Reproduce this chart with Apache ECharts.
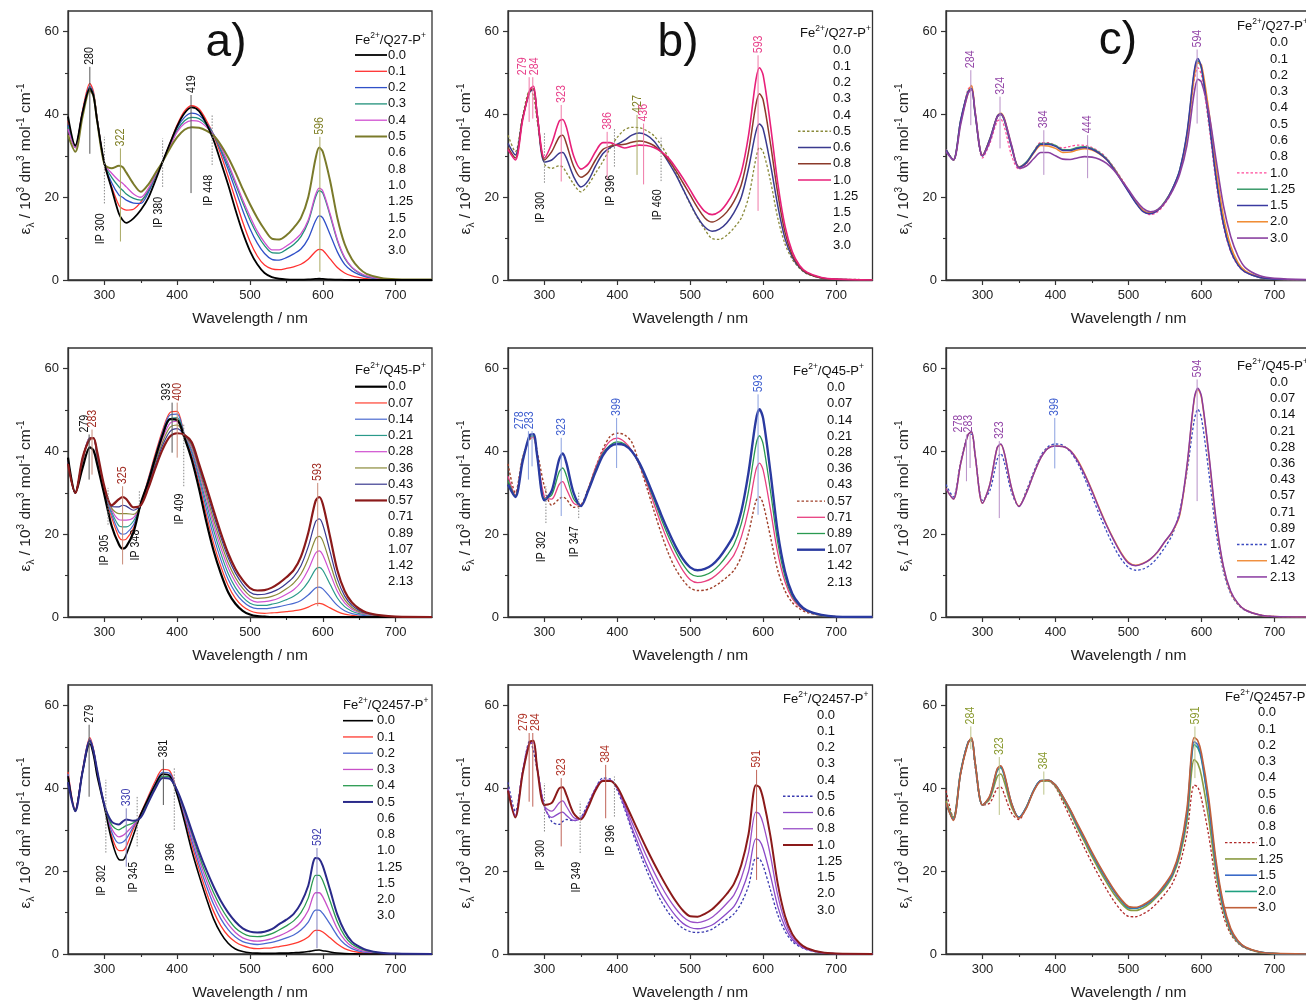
<!DOCTYPE html>
<html><head><meta charset="utf-8">
<script src="https://cdn.jsdelivr.net/npm/echarts@6/dist/echarts.min.js"></script>
<style>html,body{margin:0;padding:0;background:#fff}#c{width:1306px;height:1001px}</style>
</head><body><div id="c"></div>
<script>
// ---------------- DATA ----------------
const W = [250,260,270,280,285,290,300,310,320,325,330,340,350,360,370,380,390,400,410,420,430,440,450,460,470,480,490,500,510,520,530,540,550,560,570,580,590,595,600,610,620,630,640,650,660,680,700,750];

const LEG_Q27 = ['0.0','0.1','0.2','0.3','0.4','0.5','0.6','0.8','1.0','1.25','1.5','2.0','3.0'];
const LEG_Q45 = ['0.0','0.07','0.14','0.21','0.28','0.36','0.43','0.57','0.71','0.89','1.07','1.42','2.13'];
const LEG_Q2457 = ['0.0','0.1','0.2','0.3','0.4','0.5','0.6','0.8','1.0','1.25','1.5','2.0','3.0'];
const X_TICKS = [300,400,500,600,700];
const X_MINOR = [350,450,550,650];
const Y_TICKS = [0,20,40,60];
const Y_MINOR = [10,30,50];

// Fe2+/Q27-P+
const q27_00 = [39.5,32.5,40.5,46.3,44.5,38.5, 28.2,22,16,14.5,13.8,14.9, 16.9,19.7,24,28.6,33,37.2, 40.3,41.7,40.8,37.8,33.8,28.5, 23,17,11.5,7,3.8,1.7, 0.7,0.3,0.15,0.1,0.1,0.15, 0.25,0.3,0.25,0.15,0.1,0.05, 0,0,0,0,0,0];
const q27_01 = [38.5,32,41,47.5,45.5,39, 28,22.5,18,17.2,16.9,17.1, 18.8,21.5,25,28.6,33,37.5, 40.8,42.1,41.3,38.6,35,30.3, 25,19.5,14,9.3,5.8,3.6, 2.7,2.5,2.8,3.2,3.8,5, 6.9,7.4,7.2,5.1,3,1.7, 1,0.6,0.3,0.1,0,0];
const q27_02 = [37.5,32.3,40.5,46.8,45,39, 28,23.5,20.5,20,19.3,18.6, 18.5,21,25,28.6,32.8,36.8, 39.3,40.3,39.8,37.9,35.2,31.2, 26.7,21.8,16.8,12.4,8.9,6.4, 5,4.8,5.4,6.3,7.5,10, 14.3,15.5,15,11,6.8,3.8, 2.2,1.3,0.7,0.2,0.1,0];
const q27_03 = [37,32,40.5,46.5,45,39, 28,24.8,22.5,21.7,20.8,19.7, 19.3,21.5,25,28.6,32.5,36.2, 38.5,39.3,39,37.5,35.1,31.6, 27.6,23.2,18.7,14.5,11,8.3, 6.6,6.5,7.4,8.6,10.5,14, 20,21.6,21,15.6,9.5,5.3, 3,1.7,0.9,0.3,0.1,0];
const q27_04 = [36.5,32,40.5,46.3,44.8,39, 28,25.8,24,23.4,22.5,20.8, 20,22,25.3,28.6,32.3,35.8, 37.8,38.5,38.3,37,35.1,32.1, 28.2,23.8,19.4,15.4,11.8,9.1, 7.3,7.3,8.2,9.5,11.2,14.5, 20.6,22.2,21.5,16,9.8,5.5, 3.1,1.8,1,0.3,0.1,0];
const q27_05 = [35,31,39.5,45.8,44.5,38.5, 28,27,27.6,27.3,26,23.2, 21.3,23,25.8,28.6,31.8,34.5, 36.3,36.9,36.8,36.1,34.9,32.6, 29.6,26,22,18.3,15,12.2, 10,9.8,10.8,12.6,15,20, 29.3,32,31,24,15,8.7, 5,2.8,1.5,0.5,0.2,0.1];
const q27_06 = [33,30.2,39,45.5,46,40, 28.5,29,30.6,30.8,29.5,25, 22.5,24,27.5,30.5,32,32.8, 33.8,35,35.5,35,33.6,31.2, 28.5,25.5,22,18.5,15.2,12.8, 11.8,12.3,13.8,16.3,20,27, 35.8,37.7,36.5,28,18,10, 5.5,3,1.6,0.5,0.2,0];
const q27_08 = [32,29.5,39,45.8,46.2,40, 29,31,34.5,35,33,27.5, 24.8,26,29,31.5,32.3,32.6, 32.8,33.3,33.6,33.3,32.5,31, 29,26.5,23.5,20.5,17.5,15, 14,14.8,16.4,19,23,31, 42.3,45,43.5,33,21,11.5, 6,3.2,1.7,0.5,0.2,0];
const q27_10 = [31.5,29,38.5,46,46.8,40, 29.5,33,38.3,38.8,37,30, 26.8,28,31,33.2,33.2,32.5, 31.9,32.3,32.6,32.5,32,31, 29.5,27.2,24.6,21.7,18.8,16.6, 15.8,16.5,18.5,21.5,26,35, 48.3,51.3,49.5,37.5,23.5,13, 6.8,3.5,1.9,0.6,0.2,0];
const q27_125 = [31.5,29,38.5,45.5,46.3,40, 30,34,39.3,40,38.5,32, 27.3,28.5,31,33,33,32.5, 31.5,31.5,32,32.2,31.8,30.8, 29.3,27,24.3,21.5,18.8,16.7, 16.2,17,19,22,26.5,35, 50,53,51,39,25,14, 7.3,3.8,2,0.6,0.2,0];
const q27_15 = [31.5,29,38.5,45.3,46.3,40, 30,34,39.5,40.2,38.7,32, 27.2,28.3,30.8,32.8,32.8,32.3, 31.3,31.3,31.8,32,31.6,30.6, 29.1,26.8,24.1,21.3,18.6,16.5, 16,16.8,18.8,22,26.5,35.5, 50.5,53.5,51.3,39,24.5,13.5, 7,3.6,1.9,0.6,0.2,0];
const q27_20 = [31.5,29,38,45,47,40.5, 30.2,34,39.5,40.3,39,32.3, 27.3,28.2,30.6,32.5,32.4,31.8, 30.8,30.9,31.4,31.7,31.4,30.5, 29.1,26.9,24.3,21.6,19,16.8, 16.2,16.9,18.8,21.8,26,34.5, 49,52.5,52,41,27,15.5, 8.2,4.2,2.2,0.7,0.2,0];
const q27_30 = [31,29,37.5,45,46,40.5, 30,33.5,39.3,40,38.8,32.5, 27,27.5,29.3,30.8,30.8,30, 29.2,29.1,29.5,29.8,29.7,29.2, 28.2,26.5,24.2,21.8,19.3,17.3, 16.5,17,18.7,21.5,25.5,32.5, 45.2,48.5,47.8,40.5,29,18, 10.5,5.8,3,1,0.4,0.1];

// Fe2+/Q45-P+
const q45_000 = [38.5,30,36,41,40.3,37, 29.5,22,17.5,16.5,17,20.5, 27.5,32.5,38.5,44,47.8,47.6, 43.3,38,31,23,16,10.5, 6,3.2,1.5,0.6,0.2,0.1, 0,0,0,0,0,0, 0,0,0,0,0,0, 0,0,0,0,0,0];
const q45_007 = [38,30,37.5,43.3,43.3,38.5, 30,24,19.3,18.6,18.8,21.5, 27.2,33.3,39.5,45.2,49.4,49.7, 43.8,39,32.5,24.8,17.8,12.2, 7.6,4.5,2.6,1.5,1,0.9, 1,1.1,1.3,1.5,1.8,2.4, 3.2,3.3,3.1,2.2,1.3,0.7, 0.4,0.2,0.1,0,0,0];
const q45_014 = [37.8,30,37.8,43.3,43.3,38.8, 30.3,24.8,20.5,20,20.2,22.3, 27.1,33,39,44.7,48.8,49, 44,39.7,33.5,26.2,19.5,13.8, 9.1,5.9,3.8,2.5,2,2, 2.2,2.5,2.9,3.3,4,5.3, 7,7.2,6.8,4.8,2.8,1.5, 0.8,0.5,0.3,0.1,0,0];
const q45_021 = [37.6,30,38,43.3,43.3,39, 30.6,25.4,22,21.8,21.8,23.2, 27,32.7,38.5,44,47.8,48.2, 44,40.3,34.3,27.5,21,15.3, 10.5,7.1,4.8,3.3,2.8,2.8, 3.1,3.5,4.2,5,6.3,8.5, 11.5,12,11.3,7.9,4.6,2.5, 1.4,0.8,0.5,0.1,0.05,0];
const q45_028 = [37.4,30,38.2,43.3,43.3,39.2, 30.8,25.9,23.5,23.4,23.4,24, 27,32.3,38,43.2,46.8,47.3, 44,40.8,35,28.6,22.3,16.7, 11.9,8.4,5.9,4.2,3.6,3.7, 4,4.6,5.5,6.6,8.4,11.4, 15.4,16,15,10.6,6.2,3.4, 1.9,1.1,0.6,0.2,0.1,0];
const q45_036 = [37.2,30,38.3,43.2,43.3,39.4, 31,26.3,25,25,25,24.8, 27,32,37.5,42.3,45.8,46.4, 44,41.3,35.7,29.6,23.5,18, 13.1,9.5,6.9,5.1,4.5,4.6, 5,5.7,6.8,8.2,10.4,14.1, 18.9,19.5,18.4,13,7.6,4.2, 2.3,1.3,0.8,0.2,0.1,0];
const q45_043 = [37.1,30,38.4,43.1,43.3,39.6, 31.3,26.7,26.6,27,26.8,25.8, 27,31.6,36.8,41.5,44.8,45.5, 44,41.8,36.3,30.6,24.7,19.2, 14.3,10.6,7.9,6,5.4,5.5, 6,6.8,8.1,9.7,12.4,17, 23,23.7,22.3,15.8,9.2,5.1, 2.8,1.6,0.9,0.3,0.1,0];
const q45_057 = [37,30,38.5,43,43.2,40, 31.5,27,28.5,29,28.5,26.5, 27,31,36,40.5,43.6,44.4, 44,42.2,37,31.5,25.8,20.3, 15.4,11.6,8.9,7,6.4,6.5, 7.1,8.2,9.6,11.3,14.6,20.3, 28,29,27.3,19.4,11.3,6.3, 3.5,2,1.1,0.4,0.1,0];
const q45_071 = [34,29.5,38,43.3,43.5,39, 29,28.5,32,32.7,31,27.5, 27,31,36,40,42.5,43.2, 42.3,40.2,36.8,32.5,27.5,22.5, 18,14.3,11.2,9,8.3,8.6, 9.4,10.8,12.7,15,19.3,26, 35.5,37.2,35.5,26,15.5,8.5, 4.5,2.5,1.4,0.4,0.1,0];
const q45_089 = [33,29.3,38,43.5,43.8,39, 28.6,29.5,35,36,34.2,28.5, 26.9,30.8,35.5,39.5,41.5,42.3, 41.8,40,37,33,28.5,23.8, 19.5,15.8,12.7,10.5,9.8,10.1, 11,12.6,14.8,17.5,22.5,30.5, 41.5,43.8,41.8,30.5,18,9.7, 5,2.7,1.5,0.4,0.1,0];
const q45_107 = [32,29,37.5,44,44.2,39, 28.2,30.5,38,39.5,37.3,30, 26.8,30.5,35,39,41.2,41.8, 41.5,40,37.3,33.5,29.2,24.8, 20.7,17,14,12,11.3,11.6, 12.6,14.4,16.9,19.9,25.5,35, 47.5,50.2,48,35,20.5,11, 5.6,3,1.6,0.5,0.1,0];
const q45_142 = [31,28.5,37,44,44.7,39, 27.5,32,40.8,41.7,39.5,31, 26.8,30,34.5,38.5,40.8,41.3, 41.2,40.3,38,34.6,30.6,26.3, 22.3,18.7,15.5,13.2,12.5,13, 14,15.7,18.2,20.5,24.5,36, 52.5,55,53,39,23,12, 6,3.2,1.7,0.5,0.15,0];
const q45_213 = [31,28.5,37,44,44.8,39, 27.5,32,40.9,41.8,39.6,31, 26.7,29.9,34.5,38.5,40.8,41.3, 41.2,40.2,37.8,34.4,30.4,26.1, 22.1,18.5,15.3,13,12.4,12.9, 14,15.8,18.3,20.7,24.8,36.5, 52.8,55.3,53.3,39.5,23.5,12.3, 6.2,3.3,1.7,0.5,0.15,0];

// Fe2+/Q2457-P+
const q2457_00 = [43,34.5,44,50.8,48,43, 35.5,27.5,22.8,22.7,24,28.8, 33.8,37.5,41,43.5,43,38.5, 32,25,19,13.5,8.5,5, 2.6,1.2,0.6,0.3,0.2,0.15, 0.15,0.2,0.2,0.3,0.4,0.6, 0.9,0.95,0.8,0.5,0.25,0.1, 0.05,0,0,0,0,0];
const q2457_01 = [44,35,44.5,52.3,49.5,44, 36,28.5,25,25,26,30.3, 34,38,41.8,44.6,44.2,39.2, 33,26.5,20.5,15,10.3,6.8, 4.4,2.9,2,1.5,1.3,1.4, 1.5,1.8,2.1,2.5,3.1,4.1, 5.7,5.7,5.3,3.9,2.4,1.3, 0.7,0.4,0.2,0.1,0,0];
const q2457_02 = [43.5,35,44.3,52,49.3,44, 36,29.5,26.8,27,27.8,30.8, 33.8,37.6,41.2,43.9,43.6,39.2, 33.6,27.5,21.7,16.5,12,8.5, 5.9,4.1,3,2.5,2.3,2.5, 2.8,3.3,3.9,4.6,5.8,7.7, 10.6,10.6,9.8,7.2,4.4,2.4, 1.3,0.7,0.4,0.1,0,0];
const q2457_03 = [43,35,44.2,51.8,49.2,44.2, 36,30.3,28.3,28.6,29.3,31.2, 33.5,37.3,40.8,43.4,43.1,39.3, 34.1,28.4,22.8,17.8,13.4,9.9, 7.2,5.2,3.9,3.3,3.1,3.3, 3.7,4.4,5.2,6.2,7.8,10.5, 14.8,14.8,13.8,10,6.1,3.4, 1.8,1,0.6,0.2,0.05,0];
const q2457_04 = [42.5,34.8,44.1,51.6,49.1,44.3, 36,31.2,30,30.5,31,31.7, 33.3,37,40.4,43,42.7,39.4, 34.6,29.2,23.8,19,14.8,11.3, 8.5,6.3,5,4.3,4.2,4.4, 4.9,5.8,6.8,8,10,13.5, 19,19,17.7,12.8,7.8,4.4, 2.4,1.4,0.8,0.2,0.05,0];
const q2457_05 = [41.5,34.5,44,51.5,49,44.5, 36,32,31.3,32,32.5,32.2, 33,36.5,40,42.5,42.3,39.5, 35,29.8,24.8,20.3,16.3,12.8, 10,7.8,6.2,5.4,5.2,5.4, 6,7.2,8.3,9.7,12.3,16.5, 23.2,23,21.3,15.5,9.5,5.5, 3,1.8,1,0.3,0.1,0];
const q2457_06 = [40,33.5,44,51,51,45, 35.5,33,34,34.3,33.5,32.3, 32.8,36,40,42,42,40, 35.5,30.5,26,21.7,17.8,14.4, 11.6,9.2,7.4,6.4,6.1,6.4, 7,8.3,9.8,11.5,15,20, 27.8,27.4,25.5,19,11.5,6.5, 3.5,2,1.1,0.3,0.1,0];
const q2457_08 = [39.8,33.3,43.8,51,51.2,45, 35.8,34.5,36.5,37,35.7,33, 32.6,35.8,39.8,41.9,41.9,40.1, 36.1,31.8,27.6,23.6,19.9,16.5, 13.5,11,9,7.8,7.6,8, 8.9,10.4,12.2,14.3,18.3,24.5, 34.3,33.8,31.5,23.8,14.2,7.8, 4.1,2.3,1.3,0.4,0.1,0];
const q2457_10 = [39.5,33,43.5,51.2,51.5,45, 36,36.5,40,40.3,38.5,34, 32.5,35.5,39.5,41.8,41.8,40.3, 36.8,33,29.2,25.5,22,18.7, 15.6,12.8,10.5,9.1,9,9.7, 10.8,12.5,14.5,17,21.5,29, 40.8,40.3,37.5,28.5,17,9.2, 4.8,2.6,1.4,0.4,0.1,0];
const q2457_125 = [37,33,44,51,51.8,46, 36,37.5,42.8,43.5,41.5,35.5, 33,35.5,39.5,41.8,41.8,40.5, 37.5,34.2,30.5,27,23.5,20.3, 17.3,14.5,12.3,10.7,10.5,11.1, 12.3,14,16,18.7,23.5,32, 47,46,43,32.5,19.5,10.5, 5.3,2.8,1.5,0.4,0.1,0];
const q2457_15 = [36.5,32.5,43.8,51,52,46, 36,38,44.5,45.3,43.2,36.3, 33,35.4,39.5,41.9,42,40.8, 38,34.8,31.2,27.8,24.3,21.1, 18.1,15.3,13,11.3,11.1,11.7, 12.8,14.5,16.6,19.3,24.5,34, 51.3,50.5,47.5,36,21.5,11.5, 5.8,3,1.6,0.5,0.1,0];
const q2457_20 = [36.5,32.5,43.8,51,52,46, 36,38,44.2,45,43,36.2, 33,35.4,39.5,41.9,42,40.8, 38,34.7,31.1,27.7,24.2,21, 18,15.2,12.9,11.1,11,11.6, 12.7,14.4,16.5,19.2,24.3,33.5, 50.6,49.8,47,35.5,21.3,11.4, 5.8,3,1.6,0.5,0.1,0];
const q2457_30 = [36.5,32.3,43.6,50.8,52.3,46.2, 36,38.2,44.7,45.5,43.5,36.3, 32.8,35.2,39.3,41.8,42,40.8, 38.1,35,31.5,28.1,24.6,21.4, 18.4,15.6,13.2,11.5,11.3,11.9, 13,14.7,16.9,19.7,25,35, 52.3,51.5,48.5,37.5,22.5,12.2, 6.2,3.2,1.7,0.5,0.15,0];

// annotations: peaks [nm, from, to, label, colour key, label nm]; isosbestic points [nm, from, to, label, label top]
const PK_A1 = [[280,30.5,51.5,'280','k'],[419,21,44.7,'419','k'],[322,9.3,31.8,'322','ol'],[596,2,34.6,'596','ol']];
const IP_A1 = [[300,18.5,34.6,'IP 300',16.1],[380,22.5,34.2,'IP 380',20.1],[448,27.8,39.9,'IP 448',25.4]];
const PK_B1 = [[279,38.2,49,'279','pk',270],[284,39,49,'284','pk',286],[323,23.8,42.3,'323','pk'],[386,24.2,35.8,'386','pk'],[427,25.4,39.9,'427','ol'],[436,23.1,37.8,'436','pk'],[593,16.7,54.3,'593','pk']];
const IP_B1 = [[300,23.5,35.6,'IP 300',21.3],[396,27.4,36.6,'IP 396',25.4],[460,23.9,34.8,'IP 460',21.9]];
const PK_C1 = [[284,37.4,50.7,'284','pu'],[324,31.8,44.3,'324','pu'],[384,25.4,36.2,'384','pu'],[444,24.6,35,'444','pu'],[594,37.8,55.7,'594','pu']];
const PK_A2 = [[279,33.2,44.1,'279','k',272],[283,34.4,45.3,'283','dr',283.5],[325,12.7,31.6,'325','dr'],[393,39.7,51.8,'393','k',385],[400,38.5,51.8,'400','dr',400],[593,2.6,32.4,'593','dr']];
const IP_A2 = [[305,22.3,31.2,'IP 305',19.9],[348,26.4,30.4,'IP 348',21.1],[409,31.6,46.7,'IP 409',29.8]];
const PK_B2 = [[278,33.2,44.9,'278','bl',266],[283,36.4,44.9,'283','bl',279.5],[323,24.4,43.3,'323','bl'],[399,36,48.1,'399','bl'],[593,24.7,53.8,'593','bl']];
const IP_B2 = [[302,22.7,31.6,'IP 302',20.7],[347,23.9,30.4,'IP 347',21.9]];
const PK_C2 = [[278,32.8,44.1,'278','pu',267],[283,36,44.1,'283','pu',281],[323,23.9,42.5,'323','pu'],[399,35.9,48.1,'399','bl'],[594,28,57.4,'594','pu']];
const PK_A3 = [[279,38,55.4,'279','k'],[330,21.1,35.2,'330','nv'],[381,36,47,'381','k'],[592,1.4,25.6,'592','nv']];
const IP_A3 = [[302,24.5,42.1,'IP 302',21.5],[345,26,38,'IP 345',22.3],[396,30,44.9,'IP 396',26.8]];
const PK_B3 = [[279,36.8,53.4,'279','r3',271],[284,35.6,53.4,'284','r3',287],[323,26,42.5,'323','r3'],[384,32.8,45.7,'384','r3'],[591,17.9,44.5,'591','r3']];
const IP_B3 = [[300,29.6,41.3,'IP 300',27.6],[349,24.4,36.8,'IP 349',22.3],[396,33.2,42.9,'IP 396',31.2]];
const PK_C3 = [[284,49.5,55,'284','o3'],[323,33.6,47.6,'323','o3'],[384,38.5,44.1,'384','o3'],[591,42.5,55,'591','o3']];

// ---------------- STYLE / LAYOUT ----------------
const FONT = '"Liberation Sans", Arial, sans-serif';
const ANN = {
  k:{t:'#111',l:'#555'}, ol:{t:'#7e7e24',l:'#a8a860'}, pk:{t:'#e8408a',l:'#f07aa8'},
  pu:{t:'#9448a8',l:'#b890c8'}, dr:{t:'#a02a20',l:'#c88a78'}, bl:{t:'#4060d0',l:'#8aa0e0'},
  nv:{t:'#4040b0',l:'#8080c0'}, r3:{t:'#b03428',l:'#c06458'}, o3:{t:'#8a9a30',l:'#bcc488'}
};
const DOT = [2.5,2];
const PANELS = [
  {name:'Q27', leg:LEG_Q27, pk:PK_A1, ip:IP_A1, s:[
    ['0.1',q27_01,'#ff3030',1.3],['0.2',q27_02,'#3050c8',1.3],['0.3',q27_03,'#20907a',1.3],
    ['0.4',q27_04,'#d050d0',1.3],['0.5',q27_05,'#7a7a2a',2.0],['0.0',q27_00,'#000000',1.8]]},
  {name:'Q27', leg:LEG_Q27, pk:PK_B1, ip:IP_B1, s:[
    ['0.5',q27_05,'#8a8a3a',1.3,DOT],['0.6',q27_06,'#3a3a8e',1.5],['0.8',q27_08,'#8b3a2a',1.5],['1.0',q27_10,'#e8207a',1.6]]},
  {name:'Q27', leg:LEG_Q27, pk:PK_C1, ip:[], s:[
    ['1.0',q27_10,'#ff4a9a',1.3,DOT],['1.25',q27_125,'#3a9a6a',1.5],['2.0',q27_20,'#f08a30',1.5],
    ['1.5',q27_15,'#3a3aa0',1.5],['3.0',q27_30,'#8a40a0',1.6]]},
  {name:'Q45', leg:LEG_Q45, pk:PK_A2, ip:IP_A2, s:[
    ['0.07',q45_007,'#ff4030',1.2],['0.14',q45_014,'#4a6ad0',1.2],['0.21',q45_021,'#2a9a8a',1.2],
    ['0.28',q45_028,'#d050d0',1.2],['0.36',q45_036,'#8a8a3a',1.2],['0.43',q45_043,'#3a3a90',1.2],
    ['0.0',q45_000,'#000000',2.2],['0.57',q45_057,'#8b1a1a',2.2]]},
  {name:'Q45', leg:LEG_Q45, pk:PK_B2, ip:IP_B2, s:[
    ['0.57',q45_057,'#a0402a',1.4,DOT],['0.71',q45_071,'#e84080',1.3],['0.89',q45_089,'#2a9a50',1.3],['1.07',q45_107,'#2a3aa0',2.4]]},
  {name:'Q45', leg:LEG_Q45, pk:PK_C2, ip:[], s:[
    ['1.07',q45_107,'#3a4ac0',1.3,DOT],['1.42',q45_142,'#f09040',1.5],['2.13',q45_213,'#8a3aa0',1.5]]},
  {name:'Q2457', leg:LEG_Q2457, pk:PK_A3, ip:IP_A3, s:[
    ['0.1',q2457_01,'#ff3a30',1.3],['0.2',q2457_02,'#4a6ad0',1.3],['0.3',q2457_03,'#c850c8',1.3],
    ['0.4',q2457_04,'#2a9a50',1.3],['0.0',q2457_00,'#000000',1.6],['0.5',q2457_05,'#2a2a8a',2.0]]},
  {name:'Q2457', leg:LEG_Q2457, pk:PK_B3, ip:IP_B3, s:[
    ['0.5',q2457_05,'#3a3ab0',1.3,DOT],['0.6',q2457_06,'#8a4ac8',1.3],['0.8',q2457_08,'#9a50c8',1.3],['1.0',q2457_10,'#8b1a1a',2.0]]},
  {name:'Q2457', leg:LEG_Q2457, pk:PK_C3, ip:[], s:[
    ['1.0',q2457_10,'#b02a2a',1.3,DOT],['1.25',q2457_125,'#8a9a40',1.6],['2.0',q2457_20,'#20a080',1.6],
    ['1.5',q2457_15,'#3a6ac8',1.6],['3.0',q2457_30,'#c0603a',1.6]]}
];
const COLS = [{l:68,w:364},{l:508,w:364.5},{l:946,w:365}];
const ROWS = [11,348,685];
const LEGPOS = [
  {tx:355,ty:40,y0:55,dy:16.3,lx1:355,lx2:387,txx:388},
  {tx:800,ty:33,y0:50,dy:16.25,lx1:798,lx2:831,txx:833},
  {tx:1237,ty:26,y0:42.7,dy:16.28,lx1:1237,lx2:1268,txx:1270},
  {tx:355,ty:370,y0:386.7,dy:16.25,lx1:355,lx2:387,txx:388},
  {tx:793,ty:371,y0:387.7,dy:16.2,lx1:797,lx2:825,txx:827},
  {tx:1237,ty:366,y0:382.3,dy:16.22,lx1:1237,lx2:1267,txx:1270},
  {tx:343,ty:705,y0:720.7,dy:16.25,lx1:343,lx2:373,txx:377},
  {tx:783,ty:699,y0:715,dy:16.25,lx1:783,lx2:813,txx:817},
  {tx:1225,ty:697,y0:712.7,dy:16.25,lx1:1225,lx2:1257,txx:1258}
];
const LETTERS = [['a)',226,43],['b)',678,43],['c)',1118,41]];

const grids=[], xAxes=[], yAxes=[], series=[], elements=[];
const axisCol = '#333';
PANELS.forEach((p,i)=>{
  const row = Math.floor(i/3), col = i%3;
  grids.push({left:COLS[col].l, width:COLS[col].w, top:ROWS[row], height:269, show:true,
    borderColor:axisCol, borderWidth:1.3, containLabel:false, outerBoundsMode:'none'});
  const xi = xAxes.length, yi = yAxes.length;
  xAxes.push({gridIndex:i, type:'value', min:250, max:750, position:'bottom',
    axisLine:{show:true, onZero:false, lineStyle:{color:axisCol, width:1.3}},
    axisTick:{show:true, length:5, customValues:X_TICKS, lineStyle:{color:axisCol, width:1.2}},
    axisLabel:{customValues:X_TICKS, margin:9, fontSize:13, color:'#222', fontFamily:FONT},
    splitLine:{show:false}, name:'Wavelength / nm', nameLocation:'middle', nameGap:31, nameMoveOverlap:false,
    nameTextStyle:{fontSize:15.5, color:'#222', fontFamily:FONT}});
  xAxes.push({gridIndex:i, type:'value', min:250, max:750, position:'bottom',
    axisLine:{show:false}, axisTick:{show:true, length:3, customValues:X_MINOR, lineStyle:{color:axisCol, width:1.1}},
    axisLabel:{show:false}, splitLine:{show:false}});
  yAxes.push({gridIndex:i, type:'value', min:0, max:65, position:'left',
    axisLine:{show:true, onZero:false, lineStyle:{color:axisCol, width:1.3}},
    axisTick:{show:true, length:5, customValues:Y_TICKS, lineStyle:{color:axisCol, width:1.2}},
    axisLabel:{customValues:Y_TICKS, margin:9, fontSize:13, color:'#222', fontFamily:FONT},
    splitLine:{show:false}});
  yAxes.push({gridIndex:i, type:'value', min:0, max:65, position:'left',
    axisLine:{show:false}, axisTick:{show:true, length:3, customValues:Y_MINOR, lineStyle:{color:axisCol, width:1.1}},
    axisLabel:{show:false}, splitLine:{show:false}});

  p.s.forEach(s=>{
    series.push({type:'line', name:p.name+'_'+s[0], xAxisIndex:xi, yAxisIndex:yi,
      data:W.map((w,k)=>[w, s[1][k]]), smooth:0.3, showSymbol:false, symbol:'none', silent:true, z:2,
      lineStyle:{color:s[2], width:s[3], type: s[4] ? s[4] : 'solid'}, itemStyle:{color:s[2]}});
  });

  // annotation lines + labels through the axis scales
  const items = p.pk.map(a=>({kind:'p',a})).concat(p.ip.map(a=>({kind:'ip',a})));
  series.push({type:'custom', xAxisIndex:xi, yAxisIndex:yi, silent:true, z:3, clip:false,
    data: items.map(it=>[it.a[0], it.a[1], it.a[2]]), encode:{x:0, y:[1,2]},
    renderItem:(params, api)=>{
      const it = items[params.dataIndex], a = it.a;
      const p1 = api.coord([a[0], a[1]]), p2 = api.coord([a[0], a[2]]);
      if (it.kind === 'p') {
        const c = ANN[a[4]];
        const lx = a[5] != null ? api.coord([a[5], a[2]])[0] : p2[0];
        return {type:'group', children:[
          {type:'line', shape:{x1:p1[0], y1:p1[1], x2:p2[0], y2:p2[1]}, style:{stroke:c.l, lineWidth:1}},
          {type:'text', x:lx, y:p2[1]-2, rotation:Math.PI/2, scaleX:0.82,
            style:{text:a[3], fill:c.t, fontSize:13, fontFamily:FONT, align:'left', verticalAlign:'middle'}}
        ]};
      }
      const p3 = api.coord([a[0], a[4]]);
      return {type:'group', children:[
        {type:'line', shape:{x1:p1[0], y1:p1[1], x2:p2[0], y2:p2[1]}, style:{stroke:'#888', lineWidth:1, lineDash:[1.5,1.5]}},
        {type:'text', x:p1[0]-4, y:p3[1], rotation:Math.PI/2, scaleX:0.82,
          style:{text:a[3], fill:'#111', fontSize:13, fontFamily:FONT, align:'right', verticalAlign:'middle'}}
      ]};
    }});

  // legend
  const L = LEGPOS[i];
  elements.push({type:'text', x:L.tx, y:L.ty, silent:true, style:{
    text:'Fe{s|2+}/'+p.name+'-P{s|+}', fontSize:13, lineHeight:17, fontFamily:FONT, fill:'#111',
    align:'left', verticalAlign:'middle',
    rich:{s:{fontSize:8.5, lineHeight:9, verticalAlign:'top', fontFamily:FONT, fill:'#111'}}}});
  p.leg.forEach((lab,k)=>{
    const y = L.y0 + k*L.dy;
    const s = p.s.find(q=>q[0]===lab);
    if (s) elements.push({type:'line', silent:true, shape:{x1:L.lx1, y1:y, x2:L.lx2, y2:y},
      style:{stroke:s[2], lineWidth:s[3], lineDash: s[4] ? s[4] : null}});
    elements.push({type:'text', x:L.txx, y:y, silent:true, style:{text:lab, fontSize:13, fontFamily:FONT,
      fill:'#111', align:'left', verticalAlign:'middle'}});
  });

  // y-axis title
  elements.push({type:'text', x:COLS[col].l-42, y:ROWS[row]+148, rotation:Math.PI/2, silent:true, style:{
    text:'{m|ε}{b|λ}{m| / 10}{t|3}{m| dm}{t|3}{m| mol}{t|-1}{m| cm}{t|-1}', align:'center', verticalAlign:'middle',
    rich:{m:{fontSize:15.5, lineHeight:20, fontFamily:FONT, fill:'#222'},
          t:{fontSize:10, lineHeight:10, verticalAlign:'top', fontFamily:FONT, fill:'#222'},
          b:{fontSize:10, lineHeight:10, verticalAlign:'bottom', fontFamily:FONT, fill:'#222'}}}});
});
LETTERS.forEach(l=>elements.push({type:'text', x:l[1], y:l[2], silent:true,
  style:{text:l[0], fontSize:46, fontFamily:FONT, fill:'#111', align:'center', verticalAlign:'middle'}}));

const chart = echarts.init(document.getElementById('c'), null, {renderer:'canvas', width:1306, height:1001});
chart.setOption({animation:false, backgroundColor:'#fff', grid:grids, xAxis:xAxes, yAxis:yAxes, series:series,
  graphic:{elements:elements}});
</script></body></html>
